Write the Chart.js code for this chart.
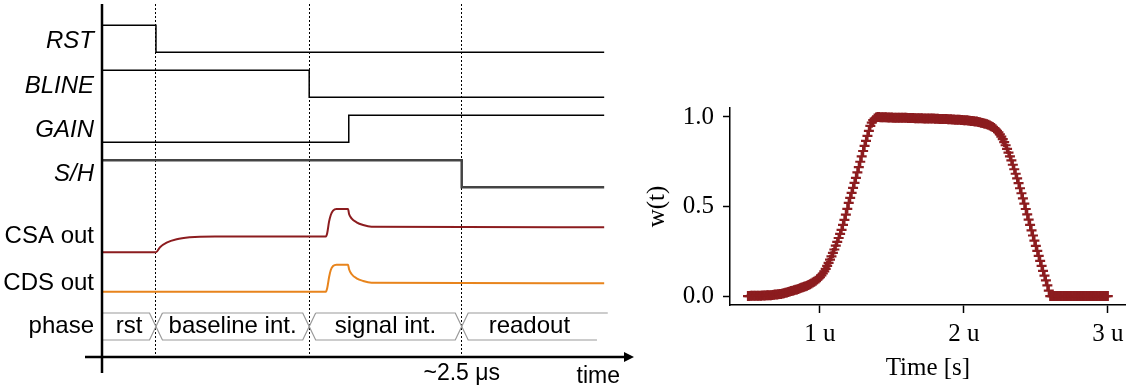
<!DOCTYPE html>
<html>
<head>
<meta charset="utf-8">
<script src="https://cdn.jsdelivr.net/npm/chart.js@4.4.1/dist/chart.umd.min.js"></script>
<style>
  html, body { margin: 0; padding: 0; background: #fff; }
  #wrap { position: relative; width: 1133px; height: 390px; }
  #timing { position: absolute; left: 0; top: 0; }
  #window { position: absolute; left: 640px; top: 0; }
</style>
</head>
<body>
<div id="wrap">
  <canvas id="timing" width="640" height="390"></canvas>
  <canvas id="window" width="493" height="390"></canvas>
</div>
<script>
// ---- timing diagram data (time in us) ----
const rowNames = ['RST', 'BLINE', 'GAIN', 'S/H', 'CSA out', 'CDS out', 'phase'];
const rowItalic = [true, true, true, true, false, false, false];

const rstTimes = [0, 0.375, 3.49];
const rstLevels = [1, 0, 0];
const blineTimes = [0, 1.44, 3.49];
const blineLevels = [1, 0, 0];
const gainTimes = [0, 1.715, 3.49];
const gainLevels = [0, 1, 1];
const shTimes = [0, 2.5, 3.49];
const shLevels = [1, 0, 0];

const csaTimes = [0, 0.375, 0.403, 0.449, 0.519, 0.611, 0.681, 0.785, 1.556, 1.565, 1.578, 1.590, 1.606, 1.630, 1.710, 1.717, 1.734, 1.769, 1.815, 1.873, 3.49];
const csaValues = [2.327, 2.327, 2.438, 2.540, 2.616, 2.660, 2.673, 2.675, 2.675, 2.749, 3.007, 3.156, 3.251, 3.289, 3.289, 3.178, 3.082, 2.993, 2.933, 2.896, 2.882];
const cdsTimes = [0, 1.556, 1.565, 1.578, 1.590, 1.606, 1.630, 1.710, 1.717, 1.734, 1.769, 1.815, 1.873, 3.49];
const cdsValues = [1.451, 1.451, 1.527, 1.771, 1.933, 2.022, 2.051, 2.051, 1.949, 1.844, 1.749, 1.689, 1.651, 1.638];

const phaseNames = ['rst', 'baseline int.', 'signal int.', 'readout'];
const phaseEdges = [0, 0.375, 1.44, 2.5, 3.44];
const markerTimes = [0.375, 1.44, 2.5];

// ---- window function data ----
const wStart = 0.5, wStep = 0.01;  // sample grid in us
const wValues = [
  0.000,0.000,0.001,0.001,0.001,0.001,0.002,0.002,0.002,0.002,
  0.003,0.003,0.003,0.004,0.004,0.005,0.005,0.006,0.007,0.008,
  0.009,0.010,0.011,0.012,0.014,0.016,0.018,0.020,0.022,0.025,
  0.028,0.030,0.032,0.035,0.037,0.040,0.043,0.046,0.049,0.052,
  0.055,0.058,0.062,0.066,0.070,0.075,0.080,0.086,0.092,0.098,
  0.105,0.115,0.126,0.138,0.152,0.168,0.185,0.203,0.222,0.241,
  0.260,0.281,0.302,0.324,0.347,0.370,0.397,0.425,0.455,0.487,
  0.520,0.548,0.576,0.604,0.632,0.660,0.690,0.720,0.750,0.780,
  0.810,0.838,0.866,0.894,0.922,0.950,0.968,0.982,0.991,0.997,
  1.000,1.000,0.999,0.999,0.998,0.998,0.998,0.997,0.997,0.997,
  0.997,0.996,0.996,0.996,0.996,0.995,0.995,0.995,0.995,0.995,
  0.995,0.994,0.994,0.994,0.994,0.994,0.993,0.993,0.993,0.993,
  0.993,0.993,0.992,0.992,0.992,0.992,0.991,0.991,0.991,0.991,
  0.990,0.990,0.990,0.989,0.989,0.989,0.988,0.988,0.988,0.987,
  0.987,0.987,0.986,0.986,0.985,0.985,0.984,0.984,0.983,0.983,
  0.982,0.981,0.981,0.980,0.979,0.978,0.977,0.976,0.975,0.974,
  0.972,0.970,0.968,0.966,0.964,0.962,0.959,0.956,0.952,0.948,
  0.944,0.938,0.931,0.923,0.914,0.903,0.890,0.876,0.860,0.842,
  0.822,0.801,0.780,0.757,0.733,0.708,0.683,0.657,0.630,0.602,
  0.574,0.545,0.516,0.486,0.456,0.427,0.397,0.367,0.338,0.309,
  0.280,0.252,0.224,0.196,0.168,0.141,0.114,0.087,0.060,0.030,
  0.000,0.000,0.000,0.000,0.000,0.000,0.000,0.000,0.000,0.000,
  0.000,0.000,0.000,0.000,0.000,0.000,0.000,0.000,0.000,0.000,
  0.000,0.000,0.000,0.000,0.000,0.000,0.000,0.000,0.000,0.000,
  0.000,0.000,0.000,0.000,0.000,0.000,0.000,0.000,0.000,0.000,
  0.000
];
const wTickValues = [1, 2, 3];
const wYTicks = [0, 0.5, 1];

const sans = '"Liberation Sans", Arial, sans-serif';
const serif = '"Liberation Serif", "Times New Roman", serif';
const darkRed = '#8c1c1f';
const orange = '#e8841c';

// row layout of the timing diagram (y axis units)
const labelPos = [7.02, 6.02, 5.03, 4.06, 2.673, 1.637, 0.674];
const boxTop = 0.978, boxBottom = 0.378, boxMid = 0.678, boxNotch = 0.045;

function digital(times, levels, row, color, width) {
  return {
    data: times.map((t, i) => ({x: t, y: row + 0.771 + 0.6 * levels[i]})),
    stepped: true, borderColor: color, borderWidth: width, pointRadius: 0
  };
}
function analog(times, values, color) {
  return {
    data: times.map((t, i) => ({x: t, y: values[i]})),
    cubicInterpolationMode: 'monotone', borderColor: color, borderWidth: 2, pointRadius: 0
  };
}
function phaseBox(i) {
  const a = phaseEdges[i], b = phaseEdges[i + 1];
  let pts;
  if (i === phaseNames.length - 1) {
    // last box is left open on the right
    pts = [[b + 0.075, boxTop], [a + boxNotch, boxTop], [a, boxMid], [a + boxNotch, boxBottom], [b, boxBottom]];
  } else if (i === 0) {
    pts = [[a, boxTop], [b - boxNotch, boxTop], [b, boxMid], [b - boxNotch, boxBottom], [a, boxBottom]];
  } else {
    pts = [[a + boxNotch, boxTop], [b - boxNotch, boxTop], [b, boxMid], [b - boxNotch, boxBottom],
           [a + boxNotch, boxBottom], [a, boxMid], [a + boxNotch, boxTop]];
  }
  return {
    data: pts.map(p => ({x: p[0], y: p[1]})),
    borderColor: '#9a9a9a', borderWidth: 1.2, pointRadius: 0, tension: 0
  };
}

const phaseLabels = {
  id: 'phaseLabels',
  afterDatasetsDraw(chart) {
    const {ctx, scales: {x, y}} = chart;
    ctx.save();
    ctx.font = '24px ' + sans;
    ctx.fillStyle = '#000';
    ctx.textAlign = 'center';
    ctx.textBaseline = 'middle';
    phaseNames.forEach((n, i) => {
      const mid = (phaseEdges[i] + phaseEdges[i + 1]) / 2;
      ctx.fillText(n, x.getPixelForValue(mid), y.getPixelForValue(boxMid));
    });
    ctx.restore();
  }
};

const arrowAxes = {
  id: 'arrowAxes',
  afterDatasetsDraw(chart) {
    const {ctx, chartArea, scales: {x, y}} = chart;
    const x0 = x.getPixelForValue(0), y0 = y.getPixelForValue(0);
    ctx.save();
    ctx.strokeStyle = '#000';
    ctx.fillStyle = '#000';
    ctx.lineWidth = 2.5;
    ctx.beginPath();
    ctx.moveTo(x0, chartArea.top);
    ctx.lineTo(x0, y0 + 16);
    ctx.moveTo(x0 - 17, y0);
    ctx.lineTo(chartArea.right + 6, y0);
    ctx.stroke();
    ctx.beginPath();
    ctx.moveTo(chartArea.right + 14, y0);
    ctx.lineTo(chartArea.right + 4, y0 - 5);
    ctx.lineTo(chartArea.right + 4, y0 + 5);
    ctx.closePath();
    ctx.fill();
    ctx.restore();
  }
};

new Chart(document.getElementById('timing'), {
  type: 'line',
  data: {
    datasets: [
      ...phaseNames.map((_, i) => phaseBox(i)),
      digital(rstTimes, rstLevels, 6, '#000', 1.5),
      digital(blineTimes, blineLevels, 5, '#000', 1.5),
      digital(gainTimes, gainLevels, 4, '#000', 1.5),
      digital(shTimes, shLevels, 3, '#444', 2.5),
      analog(csaTimes, csaValues, darkRed),
      analog(cdsTimes, cdsValues, orange)
    ]
  },
  options: {
    responsive: false,
    animation: false,
    layout: {padding: {top: 4, right: 20, left: 0, bottom: 0}},
    plugins: {legend: {display: false}, tooltip: {enabled: false}},
    scales: {
      x: {
        type: 'linear', min: 0, max: 3.6,
        afterBuildTicks: s => { s.ticks = markerTimes.map(v => ({value: v})); },
        afterFit: s => { s.height = 33; s.paddingLeft = 0; s.paddingRight = 0; },
        grid: {color: '#000', lineWidth: 1, drawTicks: false},
        border: {display: false, dash: [2, 2]},
        ticks: {
          autoSkip: false, maxRotation: 0, padding: 3, color: '#000',
          font: {family: sans, size: 23},
          callback: v => v === 2.5 ? '~2.5 μs' : ''
        },
        title: {display: true, text: 'time', align: 'end', color: '#000',
                font: {family: sans, size: 23}, padding: {top: 0, bottom: 0}}
      },
      y: {
        type: 'linear', min: 0, max: 7.844,
        afterBuildTicks: s => { s.ticks = labelPos.map(v => ({value: v})); },
        afterFit: s => { s.width = 102; s.paddingTop = 0; s.paddingBottom = 0; },
        grid: {display: false, drawTicks: false},
        border: {display: false},
        ticks: {
          autoSkip: false, padding: 8, color: '#000',
          font: ctx => ({family: sans, size: 24, style: rowItalic[ctx.index] ? 'italic' : 'normal'}),
          callback: (v, i) => rowNames[i]
        }
      }
    }
  },
  plugins: [phaseLabels, arrowAxes]
});

// ---- window function plot ----
const wTimes = wValues.map((_, i) => +(wStart + wStep * i).toFixed(2));

new Chart(document.getElementById('window'), {
  type: 'scatter',
  data: {
    datasets: [{
      data: wTimes.map((t, i) => ({x: t, y: wValues[i]})),
      pointStyle: 'cross', pointRadius: 5, pointBorderWidth: 2.2,
      borderColor: darkRed, backgroundColor: darkRed, showLine: false
    }]
  },
  options: {
    responsive: false,
    animation: false,
    layout: {padding: {top: 108, right: 5, left: 0, bottom: 0}},
    plugins: {legend: {display: false}, tooltip: {enabled: false}},
    scales: {
      x: {
        type: 'linear', min: 0.375, max: 3.125,
        afterBuildTicks: s => { s.ticks = wTickValues.map(v => ({value: v})); },
        afterFit: s => { s.height = 85; },
        grid: {drawOnChartArea: false, drawTicks: true, tickLength: 8, tickColor: '#000', tickWidth: 1.5},
        border: {display: true, color: '#000', width: 1.5},
        ticks: {padding: 6, color: '#000', font: {family: serif, size: 25}, callback: v => v + ' u'},
        title: {display: true, text: 'Time [s]', color: '#000', font: {family: serif, size: 25}, padding: {top: 0, bottom: 7}}
      },
      y: {
        type: 'linear', min: -0.05, max: 1.05,
        afterBuildTicks: s => { s.ticks = wYTicks.map(v => ({value: v})); },
        afterFit: s => { s.width = 90; },
        grid: {drawOnChartArea: false, drawTicks: true, tickLength: 7, tickColor: '#000', tickWidth: 1.5},
        border: {display: true, color: '#000', width: 1.5},
        ticks: {padding: 9, color: '#000', font: {family: serif, size: 25}, callback: v => v.toFixed(1)},
        title: {display: true, text: 'w(t)', color: '#000', font: {family: serif, size: 25}, padding: {top: 2, bottom: 0}}
      }
    }
  }
});
</script>
</body>
</html>
